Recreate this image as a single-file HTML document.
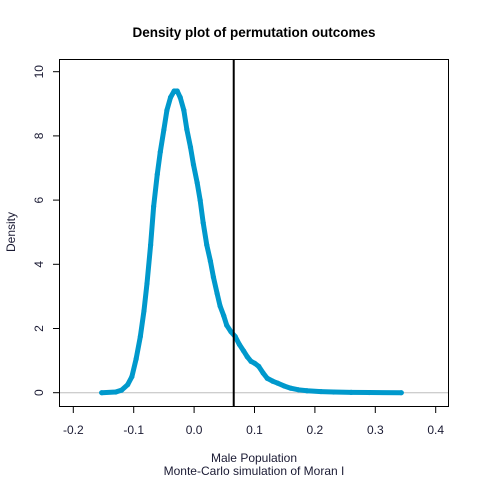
<!DOCTYPE html>
<html><head><meta charset="utf-8"><style>body{margin:0;background:#fff}svg{display:block;font-family:"Liberation Sans",Arial,sans-serif}</style></head>
<body>
<svg id="chart" width="480" height="480" viewBox="0 0 480 480">
<rect width="480" height="480" fill="#fff"/>
<text x="254" y="37" text-anchor="middle" font-size="13.5" font-weight="bold">Density plot of permutation outcomes</text>
<text transform="translate(15,232) rotate(-90)" text-anchor="middle" font-size="12" fill="#1a1a33">Density</text>
<text x="254" y="462" text-anchor="middle" font-size="12" fill="#1a1a33">Male Population</text>
<text x="254" y="475" text-anchor="middle" font-size="12" fill="#1a1a33">Monte-Carlo simulation of Moran I</text>
<g id="axes"></g>
<g id="marks"></g>
<rect x="59.5" y="59.5" width="389" height="347" fill="none" stroke="#000"/>
</svg>
<script>
const xs = [-0.153,-0.13,-0.12,-0.11,-0.103,-0.096,-0.089,-0.083,-0.078,-0.072,-0.067,-0.061,-0.056,-0.05,-0.045,-0.039,-0.033,-0.028,-0.023,-0.017,-0.012,-0.006,-0.001,0.005,0.010,0.015,0.021,0.027,0.032,0.038,0.043,0.049,0.054,0.061,0.068,0.075,0.082,0.088,0.094,0.1,0.107,0.114,0.121,0.13,0.138,0.149,0.160,0.173,0.187,0.21,0.231,0.26,0.29,0.343];
const ys = [0,0.02,0.08,0.25,0.5,1.05,1.75,2.55,3.4,4.6,5.8,6.8,7.5,8.2,8.8,9.2,9.4,9.4,9.2,8.8,8.2,7.65,7.1,6.55,6.0,5.3,4.6,4.1,3.6,3.1,2.7,2.4,2.1,1.9,1.75,1.5,1.3,1.12,0.98,0.92,0.82,0.62,0.45,0.36,0.3,0.21,0.14,0.09,0.06,0.035,0.02,0.01,0.005,0];
const xTicks = [-0.2,-0.1,0,0.1,0.2,0.3,0.4];
const xTickLabels = ["-0.2","-0.1","0.0","0.1","0.2","0.3","0.4"];
const yTicks = [0,2,4,6,8,10];
const observed = [0.0656];

const NS="http://www.w3.org/2000/svg";
const X=v=>194.1+v*604, Y=v=>392.7-v*32.1;
const axes=document.getElementById('axes'), marks=document.getElementById('marks');
function mk(tag,attrs,parent){const e=document.createElementNS(NS,tag);for(const k in attrs)e.setAttribute(k,attrs[k]);parent.appendChild(e);return e;}
mk('line',{x1:X(xTicks[0]),x2:X(xTicks[xTicks.length-1]),y1:406.5,y2:406.5,stroke:'#000'},axes);
xTicks.forEach((t,i)=>{
  const l=mk('line',{x1:X(t),x2:X(t),y1:406.5,y2:413,stroke:'#000'},axes);
  
  
  const tx=mk('text',{x:X(t),y:434,'text-anchor':'middle','font-size':12,fill:'#1a1a33'},axes);
  tx.textContent=xTickLabels[i];
  
  
});
mk('line',{x1:59.5,x2:59.5,y1:Y(yTicks[0]),y2:Y(yTicks[yTicks.length-1]),stroke:'#000'},axes);
yTicks.forEach(t=>{
  const l=mk('line',{x1:53,x2:59.5,y1:Y(t),y2:Y(t),stroke:'#000'},axes);
  
  
  const tx=mk('text',{transform:`translate(43,${Y(t)}) rotate(-90)`,'text-anchor':'middle','font-size':12,fill:'#1a1a33'},axes);
  tx.textContent=String(t);
  
  
});
const zl=mk('line',{x1:60,x2:448,y1:Y(0),y2:Y(0),stroke:'#bebebe'},marks);


const pl=mk('polyline',{points:xs.map((x,i)=>X(x)+','+Y(ys[i])).join(' '),fill:'none',stroke:'#0099cc','stroke-width':5,'stroke-linejoin':'round','stroke-linecap':'round'},marks);


xs.forEach((x,i)=>{
  const c=mk('circle',{cx:X(x),cy:Y(ys[i]),r:2.6,fill:'#0099cc'},marks);
  
  
});
observed.forEach(v=>{
  const l=mk('line',{x1:X(v),x2:X(v),y1:59.5,y2:406.5,stroke:'#000','stroke-width':2},marks);
  
  
});
</script>
</body></html>
